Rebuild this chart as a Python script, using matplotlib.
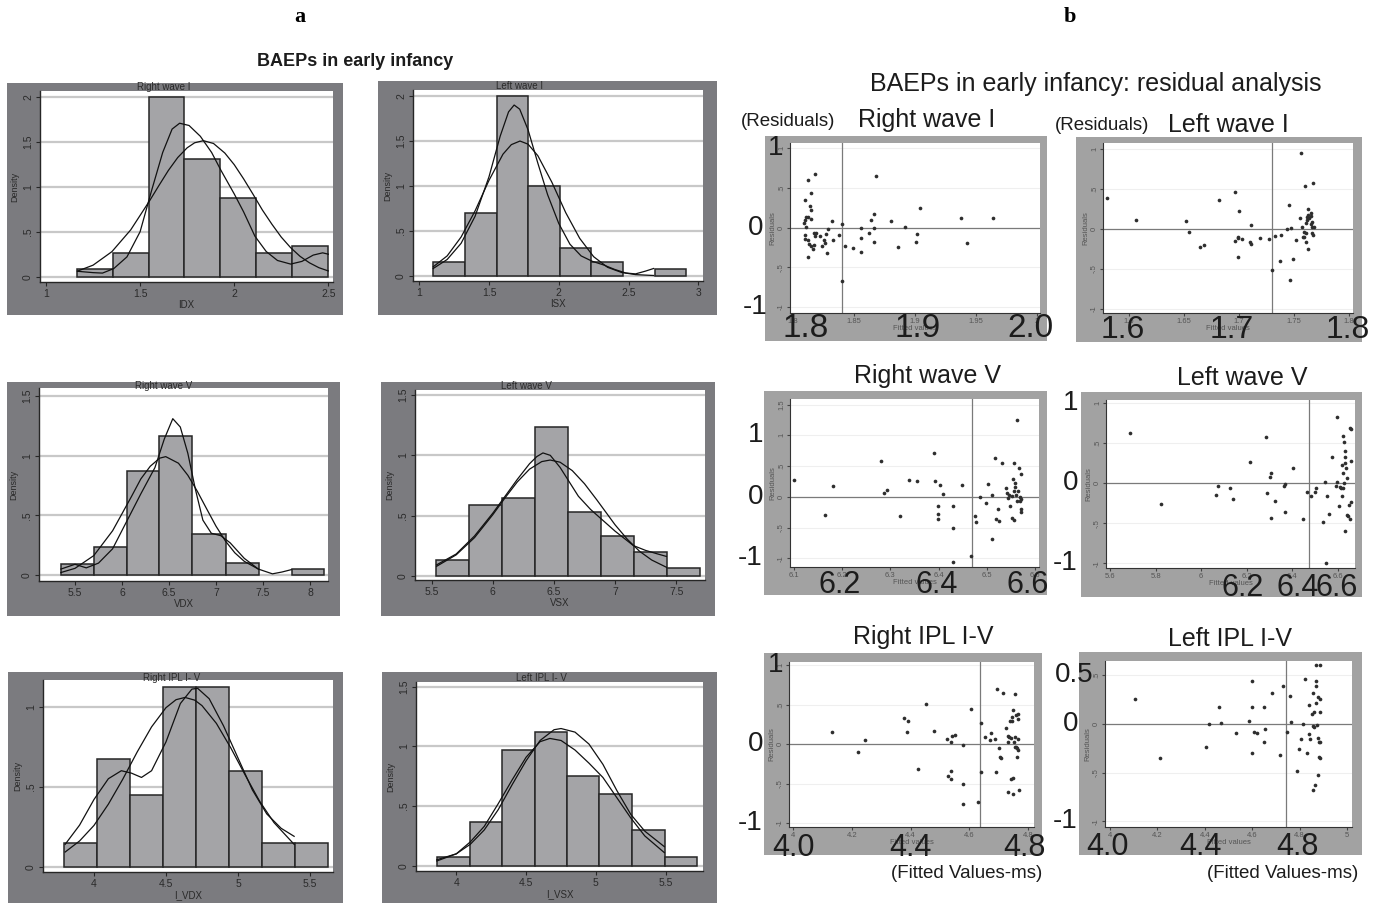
import numpy as np
import matplotlib
matplotlib.use("Agg")
import matplotlib.pyplot as plt
from matplotlib.patches import Rectangle
from matplotlib.transforms import blended_transform_factory

plt.rcParams['font.family'] = ['Liberation Sans', 'DejaVu Sans']

# ---------------- (a) histograms: bin edges, densities, kernel / normal curves
rwi_edges = [1.167, 1.358, 1.547, 1.735, 1.925, 2.114, 2.305, 2.5]
rwi_dens = [0.081, 0.259, 2.0, 1.304, 0.87, 0.259, 0.344]
rwi_kx = [1.167, 1.25, 1.3, 1.36, 1.43, 1.5, 1.56, 1.62, 1.67, 1.71, 1.76, 1.82, 1.88,
          1.93, 2.0, 2.05, 2.11, 2.17, 2.23, 2.3, 2.36, 2.42, 2.47, 2.5]
rwi_ky = [0.06, 0.045, 0.04, 0.09, 0.22, 0.5, 0.95, 1.38, 1.64, 1.705, 1.68, 1.56, 1.38,
          1.18, 0.92, 0.72, 0.45, 0.28, 0.18, 0.14, 0.17, 0.24, 0.265, 0.25]
rwi_nx = [1.167, 1.25, 1.35, 1.45, 1.55, 1.6, 1.65, 1.7, 1.75, 1.79, 1.836, 1.89, 1.95,
          2.0, 2.05, 2.1, 2.15, 2.2, 2.25, 2.3, 2.35, 2.4, 2.45, 2.5]
rwi_ny = [0.062, 0.128, 0.278, 0.52, 0.842, 1.013, 1.18, 1.324, 1.432, 1.488, 1.511, 1.48,
          1.374, 1.245, 1.087, 0.916, 0.74, 0.584, 0.44, 0.322, 0.226, 0.154, 0.1, 0.064]

lwi_edges = [1.100, 1.327, 1.554, 1.781, 2.008, 2.231, 2.458, 2.689, 2.912]
lwi_dens = [0.148, 0.693, 2.0, 1.0, 0.311, 0.148, 0.0, 0.074]
lwi_kx = [1.1, 1.2, 1.3, 1.4, 1.5, 1.58, 1.64, 1.68, 1.72, 1.78, 1.85, 1.92, 2.0, 2.08,
          2.16, 2.24, 2.32, 2.4, 2.48, 2.55, 2.62, 2.68]
lwi_ky = [0.08, 0.18, 0.36, 0.66, 1.1, 1.55, 1.82, 1.896, 1.85, 1.62, 1.25, 0.9, 0.58,
          0.35, 0.22, 0.16, 0.12, 0.07, 0.03, 0.02, 0.05, 0.08]
lwi_nx = [1.1, 1.2, 1.3, 1.4, 1.5, 1.6, 1.66, 1.722, 1.78, 1.85, 1.95, 2.05, 2.15, 2.25,
          2.35, 2.45, 2.55, 2.68]
lwi_ny = [0.099, 0.22, 0.43, 0.72, 1.06, 1.35, 1.456, 1.496, 1.461, 1.333, 1.04, 0.70,
          0.415, 0.211, 0.093, 0.036, 0.012, 0.002]

rwv_edges = [5.348, 5.706, 6.05, 6.397, 6.748, 7.103, 7.457, 7.805, 8.152]
rwv_dens = [0.089, 0.232, 0.874, 1.165, 0.341, 0.098, 0.0, 0.047]
rwv_kx = [5.35, 5.5, 5.62, 5.75, 5.9, 6.05, 6.2, 6.35, 6.45, 6.54, 6.62, 6.7, 6.78, 6.86,
          6.95, 7.05, 7.15, 7.3, 7.45, 7.6, 7.7, 7.8]
rwv_ky = [0.05, 0.09, 0.06, 0.1, 0.22, 0.45, 0.68, 0.9, 1.14, 1.31, 1.24, 1.02, 0.72,
          0.46, 0.35, 0.33, 0.27, 0.14, 0.05, 0.01, 0.025, 0.045]
rwv_nx = [5.35, 5.5, 5.7, 5.9, 6.1, 6.2, 6.3, 6.4, 6.465, 6.6, 6.7, 6.8, 6.9, 7.0, 7.1,
          7.2, 7.3, 7.45]
rwv_ny = [0.021, 0.056, 0.163, 0.371, 0.657, 0.805, 0.911, 0.979, 0.992, 0.937, 0.836,
          0.703, 0.555, 0.409, 0.285, 0.186, 0.115, 0.05]

lwv_edges = [5.535, 5.805, 6.073, 6.346, 6.613, 6.883, 7.151, 7.424, 7.697]
lwv_dens = [0.13, 0.587, 0.648, 1.233, 0.526, 0.33, 0.2, 0.066]
lwv_kx = [5.54, 5.7, 5.85, 6.0, 6.1, 6.2, 6.3, 6.36, 6.41, 6.47, 6.55, 6.6, 6.7, 6.8,
          6.9, 7.0, 7.1, 7.15, 7.25, 7.35, 7.42]
lwv_ky = [0.09, 0.18, 0.33, 0.52, 0.66, 0.8, 0.93, 0.99, 1.02, 1.0, 0.9, 0.82, 0.66,
          0.55, 0.46, 0.37, 0.29, 0.25, 0.21, 0.18, 0.16]
lwv_nx = [5.54, 5.7, 5.85, 6.0, 6.1, 6.2, 6.3, 6.4, 6.469, 6.55, 6.65, 6.75, 6.85, 7.0,
          7.1, 7.2, 7.3, 7.42]
lwv_ny = [0.078, 0.173, 0.316, 0.507, 0.647, 0.779, 0.885, 0.948, 0.961, 0.943, 0.873,
          0.764, 0.631, 0.423, 0.303, 0.203, 0.13, 0.07]

ripl_edges = [3.794, 4.023, 4.25, 4.477, 4.706, 4.935, 5.167, 5.396, 5.623]
ripl_dens = [0.146, 0.671, 0.448, 1.121, 1.121, 0.598, 0.146, 0.146]
ripl_kx = [3.8, 3.9, 4.0, 4.1, 4.19, 4.26, 4.33, 4.4, 4.5, 4.6, 4.68, 4.72, 4.8, 4.9,
           5.0, 5.1, 5.2, 5.3, 5.39]
ripl_ky = [0.14, 0.26, 0.42, 0.55, 0.6, 0.585, 0.558, 0.6, 0.78, 1.02, 1.11, 1.115,
           1.05, 0.88, 0.68, 0.48, 0.33, 0.24, 0.19]
ripl_nx = [3.8, 3.9, 4.0, 4.1, 4.2, 4.3, 4.4, 4.5, 4.57, 4.632, 4.7, 4.75, 4.85, 4.95,
           5.05, 5.15, 5.25, 5.39]
ripl_ny = [0.092, 0.161, 0.258, 0.391, 0.547, 0.717, 0.874, 0.994, 1.044, 1.058, 1.041,
           1.007, 0.896, 0.743, 0.573, 0.41, 0.276, 0.14]

lipl_edges = [3.861, 4.096, 4.327, 4.561, 4.793, 5.022, 5.259, 5.493, 5.725]
lipl_dens = [0.075, 0.369, 0.969, 1.117, 0.751, 0.598, 0.299, 0.07]
lipl_kx = [3.86, 4.0, 4.1, 4.2, 4.3, 4.4, 4.5, 4.6, 4.67, 4.75, 4.85, 4.95, 5.05, 5.15,
           5.25, 5.35, 5.49]
lipl_ky = [0.04, 0.1, 0.2, 0.33, 0.52, 0.72, 0.91, 1.04, 1.067, 1.05, 0.97, 0.86, 0.74,
           0.57, 0.4, 0.25, 0.11]
lipl_nx = [3.86, 4.0, 4.1, 4.2, 4.3, 4.4, 4.5, 4.6, 4.7, 4.75, 4.85, 4.95, 5.05, 5.15,
           5.25, 5.35, 5.49]
lipl_ny = [0.05, 0.1, 0.18, 0.3, 0.47, 0.68, 0.88, 1.05, 1.14, 1.15, 1.12, 1.02, 0.85,
           0.63, 0.43, 0.29, 0.16]

# ---------------- (b) residuals vs fitted values
rwi_fit = [1.810, 1.812, 1.818, 1.815, 1.814, 1.815, 1.811, 1.810, 1.812, 1.815, 1.809,
           1.811, 1.810, 1.810, 1.812, 1.813, 1.815, 1.816, 1.817, 1.812, 1.817, 1.819,
           1.818, 1.822, 1.824, 1.826, 1.825, 1.827, 1.828, 1.829, 1.832, 1.833, 1.838,
           1.840, 1.843, 1.849, 1.840, 1.856, 1.856, 1.856, 1.862, 1.864, 1.866, 1.866,
           1.866, 1.868, 1.880, 1.886, 1.892, 1.901, 1.902, 1.904, 1.938, 1.943, 1.964]
rwi_res = [0.344, 0.595, 0.678, 0.428, 0.269, 0.219, 0.136, 0.094, 0.127, 0.107, 0.052,
           0.010, -0.094, -0.148, -0.157, -0.211, -0.228, -0.273, -0.219, -0.365, -0.065,
           -0.065, -0.106, -0.106, -0.228, -0.198, -0.157, -0.081, -0.324, -0.023, 0.086,
           -0.157, -0.094, 0.040, -0.228, -0.253, -0.678, -0.010, -0.136, -0.303, -0.073,
           0.094, 0.169, -0.010, -0.182, 0.65, 0.081, -0.240, 0.010, -0.182, -0.086,
           0.248, 0.123, -0.190, 0.123]

lwi_fit = [1.580, 1.606, 1.652, 1.655, 1.665, 1.668, 1.682, 1.696, 1.700, 1.696, 1.699,
           1.699, 1.703, 1.699, 1.710, 1.711, 1.711, 1.719, 1.727, 1.733, 1.738, 1.744,
           1.747, 1.745, 1.737, 1.749, 1.752, 1.755, 1.756, 1.758, 1.757, 1.759, 1.759,
           1.760, 1.761, 1.761, 1.762, 1.762, 1.763, 1.763, 1.764, 1.765, 1.765, 1.765,
           1.766, 1.766, 1.766, 1.767, 1.767, 1.768, 1.761, 1.763, 1.730, 1.746]
lwi_res = [0.383, 0.113, 0.104, -0.033, -0.229, -0.204, 0.367, 0.458, 0.229, -0.146,
           -0.096, -0.117, -0.129, -0.354, -0.167, -0.188, 0.050, -0.108, -0.121, -0.083,
           -0.075, 0.004, 0.017, 0.300, -0.396, -0.379, -0.133, 0.133, 0.946, -0.096,
           0.029, -0.033, -0.104, 0.538, -0.054, 0.071, 0.113, 0.154, 0.254, 0.175,
           0.133, 0.204, 0.163, 0.058, 0.092, 0.029, -0.054, -0.075, 0.575, 0.029,
           -0.158, -0.250, -0.513, -0.638]

rwv_fit = [6.100, 6.164, 6.181, 6.281, 6.287, 6.293, 6.320, 6.338, 6.356, 6.390, 6.392,
           6.403, 6.398, 6.399, 6.399, 6.410, 6.429, 6.429, 6.429, 6.448, 6.468, 6.475,
           6.477, 6.486, 6.498, 6.503, 6.510, 6.511, 6.516, 6.518, 6.522, 6.525, 6.531,
           6.539, 6.541, 6.543, 6.546, 6.548, 6.552, 6.553, 6.555, 6.556, 6.557, 6.557,
           6.558, 6.558, 6.561, 6.562, 6.563, 6.565, 6.567, 6.568, 6.570, 6.570, 6.570,
           6.571, 6.569]
rwv_res = [0.270, -0.297, 0.178, 0.578, 0.070, 0.108, -0.308, 0.281, 0.254, 0.714, 0.254,
           0.200, -0.151, -0.281, -0.362, 0.043, -0.146, -0.508, -1.065, 0.189, -0.962,
           -0.308, -0.411, 0.005, -0.108, 0.216, 0.038, -0.686, 0.632, -0.368, -0.200,
           -0.400, 0.557, 0.146, 0.070, -0.011, 0.027, -0.146, 0.011, -0.341, 0.297,
           0.092, 0.557, -0.378, 0.162, 0.227, 0.027, 1.254, -0.065, 0.092, 0.470,
           -0.070, 0.378, -0.200, -0.254, -0.043, 0.000]

lwv_fit = [5.688, 5.822, 6.063, 6.075, 6.126, 6.139, 6.213, 6.286, 6.288, 6.301, 6.308,
           6.305, 6.326, 6.364, 6.366, 6.366, 6.402, 6.447, 6.466, 6.480, 6.499, 6.504,
           6.536, 6.543, 6.553, 6.561, 6.575, 6.590, 6.596, 6.596, 6.604, 6.607, 6.613,
           6.616, 6.618, 6.622, 6.623, 6.623, 6.625, 6.626, 6.629, 6.629, 6.632, 6.635,
           6.639, 6.641, 6.644, 6.647, 6.651, 6.654, 6.656, 6.658, 6.658, 6.547, 6.629]
lwv_res = [0.633, -0.258, -0.142, -0.033, -0.054, -0.200, 0.263, 0.583, -0.125, 0.083,
           0.133, -0.429, -0.225, -0.033, -0.008, -0.354, 0.196, -0.446, -0.113, -0.158,
           -0.104, -0.063, -0.483, 0.021, -0.154, -0.379, 0.333, -0.033, 0.013, 0.833,
           -0.283, -0.042, -0.054, 0.229, -0.154, 0.125, 0.596, -0.054, 0.517, 0.000,
           0.400, 0.333, 0.250, 0.192, 0.067, -0.400, -0.408, -0.267, 0.688, -0.442,
           0.279, -0.238, 0.679, -1.000, -0.596]

ripl_fit = [4.134, 4.221, 4.244, 4.378, 4.386, 4.392, 4.426, 4.454, 4.479, 4.524, 4.536,
            4.541, 4.551, 4.526, 4.537, 4.537, 4.579, 4.579, 4.579, 4.604, 4.630, 4.641,
            4.639, 4.653, 4.670, 4.675, 4.687, 4.689, 4.695, 4.700, 4.704, 4.706, 4.715,
            4.724, 4.730, 4.732, 4.736, 4.739, 4.741, 4.742, 4.745, 4.746, 4.747, 4.747,
            4.750, 4.753, 4.754, 4.755, 4.756, 4.758, 4.758, 4.761, 4.762, 4.764, 4.765,
            4.766, 4.767, 4.768, 4.730]
ripl_res = [0.148, -0.106, 0.051, 0.326, 0.148, 0.292, -0.317, 0.507, 0.165, 0.063,
            0.021, 0.106, 0.114, -0.406, -0.338, -0.448, -0.013, -0.499, -0.761, 0.440,
            -0.731, 0.262, -0.351, 0.093, 0.051, 0.135, 0.059, -0.359, 0.693, -0.055,
            -0.169, -0.182, 0.651, 0.203, 0.101, 0.021, 0.085, 0.296, 0.072, -0.448,
            0.296, 0.338, -0.427, -0.626, 0.431, 0.030, -0.034, 0.634, 0.093, -0.034,
            0.368, -0.169, -0.055, -0.076, 0.376, 0.313, 0.063, -0.584, -0.605]

lipl_fit = [4.106, 4.211, 4.406, 4.416, 4.461, 4.469, 4.531, 4.587, 4.599, 4.601, 4.601,
            4.606, 4.620, 4.651, 4.651, 4.652, 4.683, 4.716, 4.732, 4.745, 4.761, 4.765,
            4.789, 4.796, 4.806, 4.813, 4.823, 4.841, 4.838, 4.845, 4.852, 4.855, 4.858,
            4.861, 4.862, 4.858, 4.866, 4.868, 4.868, 4.869, 4.870, 4.873, 4.876, 4.876,
            4.878, 4.880, 4.882, 4.885, 4.885, 4.887, 4.887, 4.887, 4.831]
lipl_res = [0.253, -0.355, -0.236, 0.003, 0.172, 0.007, -0.091, 0.034, 0.172, 0.443,
            -0.304, -0.084, -0.091, 0.172, -0.182, -0.051, 0.314, -0.318, 0.392, -0.078,
            0.287, 0.017, -0.480, -0.260, -0.159, 0.000, 0.459, 0.196, -0.101, -0.159,
            0.105, 0.314, -0.017, 0.118, -0.030, -0.676, -0.632, 0.605, 0.392, 0.213,
            0.443, -0.010, -0.530, -0.142, 0.274, -0.338, -0.182, 0.122, 0.253, 0.608,
            -0.355, -0.182, -0.300]

# vertical reference line (mean fitted value) for each residual plot
ref_fit = [1.84, 1.73, 6.469, 6.473, 4.636, 4.743]

W, H = 1381, 905
fig = plt.figure(figsize=(W / 100, H / 100), dpi=100)

A_GRAY = '#7b7b7f'
B_GRAY = '#a2a2a2'
BAR = '#a4a4a7'
INK = '#1c1c1c'


def fig_box(l, t, r, b):
    return [l / W, 1 - b / H, (r - l) / W, (b - t) / H]


def frame(l, t, r, b, color):
    fig.add_artist(Rectangle((l / W, 1 - b / H), (r - l) / W, (b - t) / H,
                             transform=fig.transFigure, facecolor=color,
                             edgecolor='none', zorder=-5))


def stata(v):
    s = f'{v:g}'
    if s.startswith('0.'):
        s = s[1:]
    elif s.startswith('-0.'):
        s = '-' + s[2:]
    return s


def hist_panel(fr, pl, edges, dens, kx, ky, nx, ny, xticks, yticks, xlim, ylim,
               title, tpos, xlabel):
    frame(*fr, A_GRAY)
    ax = fig.add_axes(fig_box(*pl))
    ax.set_facecolor('white')
    for yt in yticks:
        ax.axhline(yt, color='#c8c8c8', lw=1.6, zorder=0)
    edges = np.asarray(edges)
    for x0, w, h in zip(edges[:-1], np.diff(edges), dens):
        if h > 0:
            ax.bar(x0, h, width=w, align='edge', color=BAR, edgecolor='#262626',
                   lw=1.1, zorder=2)
    ax.plot(kx, ky, color='#111111', lw=0.9, zorder=3)
    ax.plot(nx, ny, color='#111111', lw=0.9, zorder=3)
    ax.set_xlim(*xlim)
    ax.set_ylim(*ylim)
    ax.set_xticks(xticks)
    ax.set_xticklabels([stata(v) for v in xticks])
    ax.set_yticks(yticks)
    ax.set_yticklabels([stata(v) for v in yticks], rotation=90, va='center')
    for s in ['top', 'right']:
        ax.spines[s].set_visible(False)
    for s in ['left', 'bottom']:
        ax.spines[s].set_color('#262626')
        ax.spines[s].set_linewidth(1.0)
    ax.tick_params(labelsize=7.5, length=3, colors='#262626', labelcolor='#2a2a2a', pad=2)
    ax.set_ylabel('Density', fontsize=6.5, color='#2a2a2a', labelpad=3)
    ax.set_xlabel(xlabel, fontsize=7, color='#2a2a2a', labelpad=1)
    fig.text(tpos[0] / W, 1 - tpos[1] / H, title, fontsize=7, color='#2a2a2a',
             ha='center', va='center')
    return ax


hist_panel((7, 83, 343, 315), (40, 91, 333, 282), rwi_edges, rwi_dens, rwi_kx, rwi_ky,
           rwi_nx, rwi_ny, [1, 1.5, 2, 2.5], [0, 0.5, 1, 1.5, 2], (0.968, 2.525),
           (-0.059, 2.063), 'Right wave I', (164, 87), 'IDX')
hist_panel((378, 81, 717, 315), (413, 90, 703, 281), lwi_edges, lwi_dens, lwi_kx, lwi_ky,
           lwi_nx, lwi_ny, [1, 1.5, 2, 2.5, 3], [0, 0.5, 1, 1.5, 2], (0.955, 3.034),
           (-0.059, 2.063), 'Left wave I', (520, 86), 'ISX')
hist_panel((7, 382, 340, 616), (39, 388, 328, 581), rwv_edges, rwv_dens, rwv_kx, rwv_ky,
           rwv_nx, rwv_ny, [5.5, 6, 6.5, 7, 7.5, 8], [0, 0.5, 1, 1.5], (5.117, 8.191),
           (-0.05, 1.567), 'Right wave V', (164, 386), 'VDX')
hist_panel((381, 382, 715, 616), (415, 390, 705, 580), lwv_edges, lwv_dens, lwv_kx, lwv_ky,
           lwv_nx, lwv_ny, [5.5, 6, 6.5, 7, 7.5], [0, 0.5, 1, 1.5], (5.363, 7.736),
           (-0.036, 1.543), 'Left wave V', (526, 386), 'VSX')
hist_panel((8, 672, 343, 903), (43, 680, 333, 872), ripl_edges, ripl_dens, ripl_kx, ripl_ky,
           ripl_nx, ripl_ny, [4, 4.5, 5, 5.5], [0, 0.5, 1], (3.646, 5.66),
           (-0.033, 1.167), 'Right IPL I- V', (172, 678), 'I_VDX')
hist_panel((382, 672, 717, 903), (416, 682, 703, 871), lipl_edges, lipl_dens, lipl_kx, lipl_ky,
           lipl_nx, lipl_ny, [4, 4.5, 5, 5.5], [0, 0.5, 1, 1.5], (3.711, 5.767),
           (-0.044, 1.54), 'Left IPL I- V', (541, 678), 'I_VSX')


def resid_panel(fr, pl, fit, res, ref, xticks, yticks, xlim, ylim, title, tpos,
                big_y, big_y_right, big_x, big_x_size, big_x_drop):
    frame(*fr, B_GRAY)
    ax = fig.add_axes(fig_box(*pl))
    ax.set_facecolor('white')
    for yt in yticks:
        ax.axhline(yt, color='#efefef', lw=0.8, zorder=0)
    ax.axhline(0, color='#7a7a7a', lw=0.9, zorder=1)
    ax.axvline(ref, color='#7a7a7a', lw=0.9, zorder=1)
    ax.scatter(fit, res, s=7, color='#2e2e2e', linewidths=0, zorder=3)
    ax.set_xlim(*xlim)
    ax.set_ylim(*ylim)
    ax.set_xticks(xticks)
    ax.set_xticklabels([stata(v) for v in xticks])
    ax.set_yticks(yticks)
    ax.set_yticklabels([stata(v) for v in yticks], rotation=90, va='center')
    for s in ['top', 'right']:
        ax.spines[s].set_visible(False)
    for s in ['left', 'bottom']:
        ax.spines[s].set_color('#333333')
    ax.tick_params(labelsize=5.5, length=2, colors='#444444', labelcolor='#555555', pad=1.5)
    ax.set_ylabel('Residuals', fontsize=5.5, color='#555555', labelpad=1)
    ax.set_xlabel('Fitted values', fontsize=5.5, color='#555555', labelpad=0)
    fig.text(tpos[0] / W, 1 - tpos[1] / H, title, fontsize=18, color=INK,
             ha='center', va='center')
    ty = blended_transform_factory(fig.transFigure, ax.transData)
    for (yv, lab), xr in zip(big_y, big_y_right):
        ax.text(xr / W, yv, lab, transform=ty, fontsize=20, color=INK,
                ha='right', va='center', clip_on=False)
    tx = blended_transform_factory(ax.transData, ax.transAxes)
    for xv, lab in big_x:
        ax.annotate(lab, xy=(xv, 0), xycoords=tx, xytext=(0, -big_x_drop),
                    textcoords='offset pixels', fontsize=big_x_size, color=INK,
                    ha='center', va='center', annotation_clip=False, zorder=5)
    return ax


resid_panel((765, 136, 1047, 341), (790, 143, 1040, 313), rwi_fit, rwi_res, ref_fit[0],
            [1.8, 1.85, 1.9, 1.95, 2], [-1, -0.5, 0, 0.5, 1], (1.7975, 2.0025),
            (-1.075, 1.063), 'Right wave I', (927, 120),
            [(1, '1'), (0, '0'), (-1, '-1')], [783, 763, 768],
            [(1.81, '1.8'), (1.902, '1.9'), (1.995, '2.0')], 24, 15)
resid_panel((1076, 137, 1362, 342), (1103, 143, 1353, 313), lwi_fit, lwi_res, ref_fit[1],
            [1.6, 1.65, 1.7, 1.75, 1.8], [-1, -0.5, 0, 0.5, 1], (1.5764, 1.8036),
            (-1.05, 1.075), 'Left wave I', (1228, 125),
            [], [],
            [(1.5945, '1.6'), (1.6936, '1.7'), (1.799, '1.8')], 23, 17)
resid_panel((764, 391, 1047, 595), (790, 399, 1039, 567), rwv_fit, rwv_res, ref_fit[2],
            [6.1, 6.2, 6.3, 6.4, 6.5, 6.6], [-1, -0.5, 0, 0.5, 1, 1.5], (6.092, 6.608),
            (-1.14, 1.59), 'Right wave V', (928, 376),
            [(1, '1'), (0, '0'), (-1, '-1')], [763, 763, 763],
            [(6.195, '6.2'), (6.397, '6.4'), (6.585, '6.6')], 22, 18)
resid_panel((1081, 392, 1362, 597), (1106, 400, 1355, 568), lwv_fit, lwv_res, ref_fit[3],
            [5.6, 5.8, 6, 6.2, 6.4, 6.6], [-1, -0.5, 0, 0.5, 1], (5.582, 6.675),
            (-1.06, 1.04), 'Left wave V', (1242, 378),
            [(1, '1'), (0, '0'), (-1, '-1')], [1078, 1078, 1078],
            [(6.183, '6.2'), (6.425, '6.4'), (6.596, '6.6')], 22, 20)
resid_panel((764, 653, 1042, 855), (789, 662, 1034, 827), ripl_fit, ripl_res, ref_fit[4],
            [4, 4.2, 4.4, 4.6, 4.8], [-1, -0.5, 0, 0.5, 1], (3.986, 4.82),
            (-1.05, 1.04), 'Right IPL I-V', (923, 637),
            [(1, '1'), (0, '0'), (-1, '-1')], [783, 763, 763],
            [(4.0, '4.0'), (4.398, '4.4'), (4.789, '4.8')], 22, 21)
resid_panel((1079, 652, 1362, 855), (1105, 661, 1352, 827), lipl_fit, lipl_res, ref_fit[5],
            [4, 4.2, 4.4, 4.6, 4.8, 5], [-1, -0.5, 0, 0.5], (3.979, 5.021),
            (-1.06, 0.647), 'Left IPL I-V', (1230, 639),
            [(0.5, '0.5'), (0, '0'), (-1, '-1')], [1093, 1078, 1078],
            [(3.99, '4.0'), (4.38, '4.4'), (4.79, '4.8')], 22, 20)

# axis captions drawn over the residual grid
for (x, y) in [(788, 122), (1102, 125)]:
    fig.text(x / W, 1 - y / H, '(Residuals)', fontsize=13.5, color=INK,
             ha='center', va='center')
for (x, y) in [(967, 873), (1283, 873)]:
    fig.text(x / W, 1 - y / H, '(Fitted Values-ms)', fontsize=13.5,
             color=INK, ha='center', va='center')

# headings
fig.text(355 / W, 1 - 62 / H, 'BAEPs in early infancy', fontsize=13, fontweight='bold',
         color=INK, ha='center', va='center')
fig.text(1096 / W, 1 - 84 / H, 'BAEPs in early infancy: residual analysis', fontsize=18,
         color=INK, ha='center', va='center')
fig.text(300 / W, 1 - 17 / H, 'a', fontsize=16, fontweight='bold',
         family=['Liberation Serif', 'DejaVu Serif'], ha='center', va='center')
fig.text(1070 / W, 1 - 17 / H, 'b', fontsize=16, fontweight='bold',
         family=['Liberation Serif', 'DejaVu Serif'], ha='center', va='center')

fig.savefig('out.png', dpi=100, facecolor='white')
